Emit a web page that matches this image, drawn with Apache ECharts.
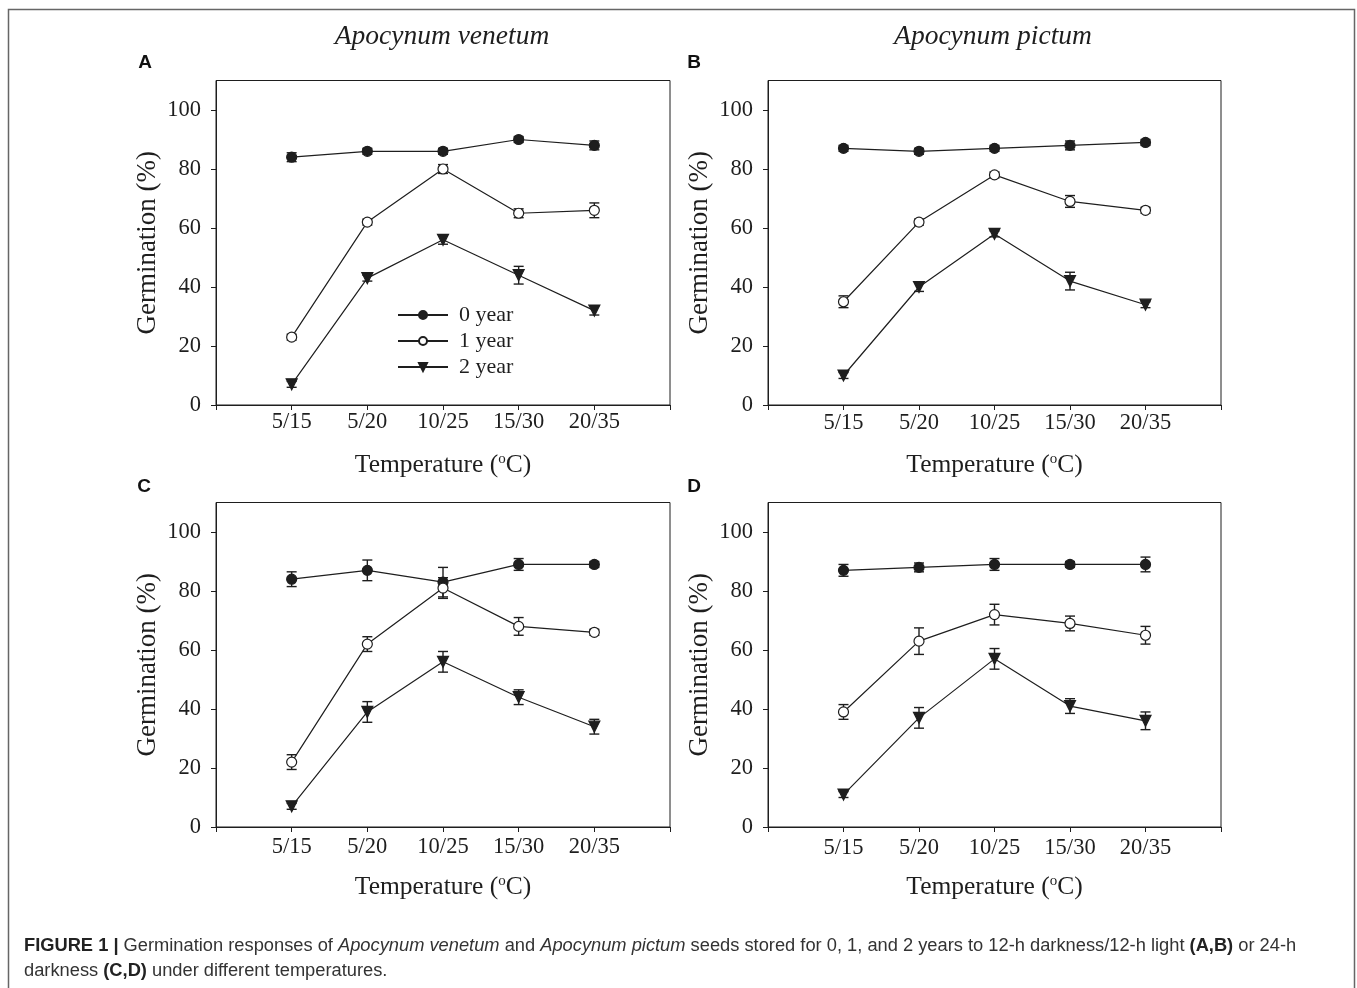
<!DOCTYPE html>
<html>
<head>
<meta charset="utf-8">
<script src="https://cdn.jsdelivr.net/npm/echarts@6/dist/echarts.min.js"></script>
<style>
  html, body { margin: 0; padding: 0; background: #fff; }
  #chart { width: 1357px; height: 988px; }
</style>
</head>
<body>
<div id="chart"></div>
<script>
// Temperature regimes (night/day, °C) and storage ages
const temps = ['5/15', '5/20', '10/25', '15/30', '20/35'];
const years = ['0 year', '1 year', '2 year'];
const yTicks = [0, 20, 40, 60, 80, 100];

// Panel A: A. venetum, 12-h darkness/12-h light — mean germination (%) and SE
const aYear0 = [84, 86, 86, 90, 88];
const aYear0Err = [1.5, 1, 1, 1, 1.5];
const aYear1 = [23, 62, 80, 65, 66];
const aYear1Err = [1, 1, 1.5, 1.5, 2.5];
const aYear2 = [7, 43, 56, 44, 32];
const aYear2Err = [1, 1, 1.5, 3, 1.5];

// Panel B: A. pictum, 12-h darkness/12-h light
const bYear0 = [87, 86, 87, 88, 89];
const bYear0Err = [1, 1, 1, 1.5, 1];
const bYear1 = [35, 62, 78, 69, 66];
const bYear1Err = [2, 1, 1, 2, 1];
const bYear2 = [10, 40, 58, 42, 34];
const bYear2Err = [1, 1.5, 1, 3, 1];

// Panel C: A. venetum, 24-h darkness
const cYear0 = [84, 87, 83, 89, 89];
const cYear0Err = [2.5, 3.5, 5, 2, 1];
const cYear1 = [22, 62, 81, 68, 66];
const cYear1Err = [2.5, 2.5, 3.5, 3, 1];
const cYear2 = [7, 39, 56, 44, 34];
const cYear2Err = [1, 3.5, 3.5, 2.5, 2.5];

// Panel D: A. pictum, 24-h darkness
const dYear0 = [87, 88, 89, 89, 89];
const dYear0Err = [2, 1.5, 2, 1, 2.5];
const dYear1 = [39, 63, 72, 69, 65];
const dYear1Err = [2.5, 4.5, 3.5, 2.5, 3];
const dYear2 = [11, 37, 57, 41, 36];
const dYear2Err = [1, 3.5, 3.5, 2.5, 3];

const panels = [
  { vals: [aYear0, aYear1, aYear2], errs: [aYear0Err, aYear1Err, aYear2Err] },
  { vals: [bYear0, bYear1, bYear2], errs: [bYear0Err, bYear1Err, bYear2Err] },
  { vals: [cYear0, cYear1, cYear2], errs: [cYear0Err, cYear1Err, cYear2Err] },
  { vals: [dYear0, dYear1, dYear2], errs: [dYear0Err, dYear1Err, dYear2Err] }
];

const INK = '#1e1e1e';
const SERIF = '"Liberation Serif", "DejaVu Serif", serif';
const SANS = '"Liberation Sans", Arial, sans-serif';

// Plot frames (pixels)
const frames = [
  { left: 216, top: 80.5, width: 454, height: 324.5, labelGap: 6 },
  { left: 768, top: 80.5, width: 453, height: 324.5, labelGap: 7 },
  { left: 216, top: 502.5, width: 454, height: 324.5, labelGap: 9 },
  { left: 768, top: 502.5, width: 453, height: 324.5, labelGap: 10 }
];

const grids = frames.map(f => ({
  left: f.left, top: f.top, width: f.width, height: f.height,
  show: true, borderColor: INK, borderWidth: 1, backgroundColor: 'transparent'
}));

const xAxes = frames.map((f, i) => ({
  type: 'value', gridIndex: i, min: 0, max: 6, interval: 1,
  axisLine: { show: true, lineStyle: { color: INK, width: 1 } },
  axisTick: { show: true, length: 5, lineStyle: { color: INK } },
  splitLine: { show: false },
  axisLabel: {
    customValues: [1, 2, 3, 4, 5],
    formatter: v => temps[v - 1] || '',
    fontFamily: SERIF, fontSize: 22.5, color: INK, margin: f.labelGap
  },
  name: 'Temperature ({sup|o}C)',
  nameLocation: 'middle', nameGap: 47,
  nameTextStyle: {
    fontFamily: SERIF, fontSize: 25.5, color: INK,
    rich: { sup: { fontFamily: SERIF, fontSize: 15, color: INK, verticalAlign: 'top', padding: [0, 0, 10, 0] } }
  }
}));

const yAxes = frames.map((f, i) => ({
  type: 'value', gridIndex: i, min: 0, max: 110,
  axisLine: { show: true, lineStyle: { color: INK, width: 1 } },
  axisTick: { show: true, length: 5, customValues: yTicks, lineStyle: { color: INK } },
  splitLine: { show: false },
  axisLabel: {
    customValues: yTicks,
    fontFamily: SERIF, fontSize: 22.5, color: INK, margin: 15
  },
  name: 'Germination (%)',
  nameLocation: 'middle', nameGap: 55,
  nameTextStyle: { fontFamily: SERIF, fontSize: 27, color: INK }
}));

const symbols = [
  { symbol: 'circle', fill: INK, size: 10, rotate: 0 },
  { symbol: 'circle', fill: '#ffffff', size: 10, rotate: 0 },
  { symbol: 'triangle', fill: INK, size: 11, rotate: 180 }
];

// Error bar renderer: vertical whisker with caps
function errorBarItem(params, api) {
  const x = api.value(0);
  const lo = api.coord([x, api.value(1)]);
  const hi = api.coord([x, api.value(2)]);
  const half = 5;
  const style = { stroke: INK, lineWidth: 1.4, fill: null };
  return {
    type: 'group',
    children: [
      { type: 'line', shape: { x1: lo[0], y1: lo[1], x2: hi[0], y2: hi[1] }, style },
      { type: 'line', shape: { x1: lo[0] - half, y1: lo[1], x2: lo[0] + half, y2: lo[1] }, style },
      { type: 'line', shape: { x1: hi[0] - half, y1: hi[1], x2: hi[0] + half, y2: hi[1] }, style }
    ]
  };
}

const series = [];
panels.forEach((p, pi) => {
  p.vals.forEach((vals, k) => {
    series.push({
      type: 'custom',
      name: 'err-' + pi + '-' + k,
      xAxisIndex: pi, yAxisIndex: pi,
      renderItem: errorBarItem,
      data: vals.map((v, i) => [i + 1, v - p.errs[k][i], v + p.errs[k][i]]),
      z: 3, silent: true
    });
    series.push({
      type: 'line',
      name: years[k],
      xAxisIndex: pi, yAxisIndex: pi,
      data: vals.map((v, i) => [i + 1, v]),
      symbol: symbols[k].symbol,
      symbolSize: symbols[k].size,
      symbolRotate: symbols[k].rotate,
      showAllSymbol: true,
      lineStyle: { color: INK, width: 1.2 },
      itemStyle: { color: symbols[k].fill, borderColor: INK, borderWidth: 1.2 },
      z: 4, animation: false, silent: true
    });
  });
});

const caption = [
  '{b|FIGURE 1 |} Germination responses of {i|Apocynum venetum} and {i|Apocynum pictum} seeds stored for 0, 1, and 2 years to 12-h darkness/12-h light {b|(A,B)} or 24-h',
  'darkness {b|(C,D)} under different temperatures.'
];
const CAP = 18.3;
const capRich = {
  b: { fontFamily: SANS, fontWeight: 'bold', fontSize: CAP, fill: '#222' },
  i: { fontFamily: SANS, fontStyle: 'italic', fontSize: CAP, fill: '#333' }
};

const graphic = [
  // figure frame
  { type: 'rect', shape: { x: 8.5, y: 9.5, width: 1346, height: 1000 }, style: { fill: null, stroke: '#666', lineWidth: 1.5 }, silent: true },
  { type: 'text', x: 442, y: 37, style: { text: 'Apocynum venetum', font: 'italic 27.5px ' + SERIF, fill: INK, textAlign: 'center', textVerticalAlign: 'middle' } },
  { type: 'text', x: 993, y: 37, style: { text: 'Apocynum pictum', font: 'italic 27.5px ' + SERIF, fill: INK, textAlign: 'center', textVerticalAlign: 'middle' } },
  { type: 'text', x: 145, y: 63, style: { text: 'A', font: 'bold 19px ' + SANS, fill: '#111', textAlign: 'center', textVerticalAlign: 'middle' } },
  { type: 'text', x: 694, y: 63, style: { text: 'B', font: 'bold 19px ' + SANS, fill: '#111', textAlign: 'center', textVerticalAlign: 'middle' } },
  { type: 'text', x: 144, y: 487, style: { text: 'C', font: 'bold 19px ' + SANS, fill: '#111', textAlign: 'center', textVerticalAlign: 'middle' } },
  { type: 'text', x: 694, y: 487, style: { text: 'D', font: 'bold 19px ' + SANS, fill: '#111', textAlign: 'center', textVerticalAlign: 'middle' } },
  { type: 'text', x: 24, y: 946, style: { text: caption[0], font: CAP + 'px ' + SANS, fill: '#333', textVerticalAlign: 'middle', rich: capRich } },
  { type: 'text', x: 24, y: 971, style: { text: caption[1], font: CAP + 'px ' + SANS, fill: '#333', textVerticalAlign: 'middle', rich: capRich } }
];

const chart = echarts.init(document.getElementById('chart'), null, { renderer: 'canvas' });
chart.setOption({
  backgroundColor: '#ffffff',
  animation: false,
  grid: grids,
  xAxis: xAxes,
  yAxis: yAxes,
  legend: {
    data: years,
    left: 392, top: 299,
    orient: 'vertical',
    itemWidth: 50, itemHeight: 10, itemGap: 4,
    selectedMode: false,
    textStyle: { fontFamily: SERIF, fontSize: 22, color: INK, padding: [0, 0, 0, 6] }
  },
  series: series,
  graphic: graphic
});
</script>
</body>
</html>
